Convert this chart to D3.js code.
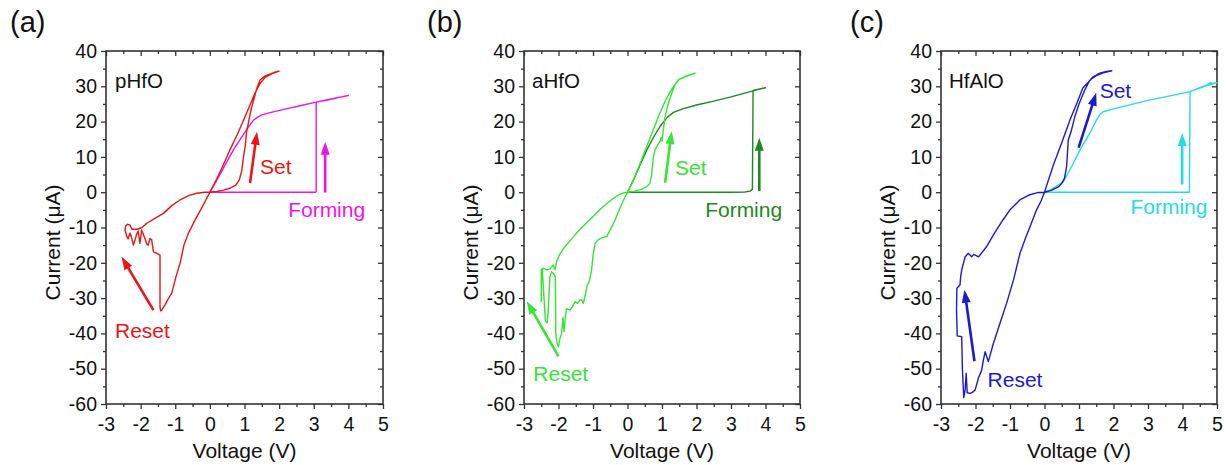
<!DOCTYPE html>
<html><head><meta charset="utf-8">
<script src="https://cdn.jsdelivr.net/npm/d3@7"></script>
<style>
body{margin:0;background:#fff}
svg{display:block;font-family:"Liberation Sans",Arial,sans-serif}
</style>
</head><body>
<svg id="chart" width="1228" height="465"></svg>
<script>
// ---------- data ----------
const xTicks = [-3,-2,-1,0,1,2,3,4,5];
const xMinor = [-2.5,-1.5,-0.5,0.5,1.5,2.5,3.5,4.5];
const yTicks = [40,30,20,10,0,-10,-20,-30,-40,-50,-60];
const yMinor = [35,25,15,5,-5,-15,-25,-35,-45,-55];
const panelTags = ["(a)","(b)","(c)"];
const sampleNames = ["pHfO","aHfO","HfAlO"];
const stepLabels = ["Set","Forming","Reset"];

// (a) pHfO
const aForming = [[0,0],[0.5,0],[1,0],[1.5,0],[2,0],[2.5,0],[3.05,0],[3.07,0.2],[3.07,25.5],[3.3,26],[3.6,26.6],[3.8,27],[4,27.4],[3.7,26.8],[3.4,26.1],[3.07,25.5],[2.6,24.5],[2.2,23.6],[1.8,22.7],[1.5,21.9],[1.36,21.1],[1.25,20.3],[1.1,18.3],[0.9,15.3],[0.68,12],[0.5,8.8],[0.3,5.2],[0.12,2],[0,0]];
const aCycle = [[0,0],[0.2,0.2],[0.4,0.6],[0.6,1.2],[0.75,2],[0.85,3.5],[0.92,6],[0.97,10],[1.02,13],[1.06,17],[1.11,19.5],[1.18,23],[1.26,26],[1.36,29.5],[1.45,31.8],[1.57,32.8],[1.69,33.3],[1.85,33.9],[2.0,34.3],
 [1.8,33.6],[1.6,32.6],[1.45,30.8],[1.3,28],[1.15,24.5],[1.0,21],[0.8,16.5],[0.58,12],[0.4,8],[0.2,3.8],[0,0],
 [-0.2,-3.8],[-0.43,-7.9],[-0.62,-11.6],[-0.75,-15],[-0.86,-20.1],[-0.98,-24],[-1.1,-28.6],[-1.22,-30.5],[-1.3,-32],[-1.39,-33.4],[-1.42,-33.6],[-1.44,-32.5],[-1.44,-17.8],[-1.5,-17.5],[-1.63,-16.9],[-1.68,-13.5],[-1.73,-13.1],[-1.78,-15],[-1.82,-14.7],[-1.9,-12.5],[-1.97,-10.7],[-2.02,-14.5],[-2.07,-11],[-2.11,-11.7],[-2.16,-13.5],[-2.21,-15],[-2.27,-12.5],[-2.31,-11.6],[-2.36,-13.2],[-2.4,-12.5],[-2.45,-10.7],[-2.43,-9.5],[-2.38,-9.1],[-2.31,-9.3],[-2.25,-10.5],
 [-2.1,-10.5],[-1.96,-10],[-1.82,-8.8],[-1.6,-7.5],[-1.34,-6],[-1.1,-3.8],[-0.86,-2.2],[-0.6,-0.9],[-0.38,-0.3],[-0.15,0],[0,0]];
const aArrows = [[[1.16,2.6],[1.36,17.1]],[[3.33,-0.1],[3.33,14.3]],[[-1.63,-33.4],[-2.55,-18.3]]];
const aLabelPos = [[1.45,5.2],[2.26,-6.9],[-2.74,-41.3]];

// (b) aHfO
const bForming = [[0,0],[0.5,0],[1,0],[2,0],[3,0],[3.4,0.05],[3.55,0.3],[3.62,0.8],[3.64,28.8],[3.8,29.2],[4.0,29.6],[3.64,28.7],[3.0,27],[2.5,25.8],[2.0,24.7],[1.6,23.6],[1.33,22.6],[1.15,21.2],[0.94,18.6],[0.75,15.5],[0.56,12],[0.4,8.5],[0.2,4],[0,0]];
const bCycle = [[0,0],[0.2,0.3],[0.4,0.8],[0.55,1.5],[0.65,2.5],[0.7,5],[0.75,10],[0.8,12],[0.88,13.5],[0.95,14.5],[0.98,15.5],[1.0,14.5],[1.03,17],[1.09,21.4],[1.18,25],[1.28,28],[1.38,30.5],[1.47,31.8],[1.65,32.7],[1.8,33.2],[1.96,33.7],
 [1.7,32.8],[1.5,32],[1.3,29.5],[1.1,26],[0.9,21.5],[0.7,16.5],[0.5,11.5],[0.3,6.5],[0.15,3],[0,0],
 [-0.15,-3],[-0.36,-7.9],[-0.5,-10.6],[-0.6,-12.6],[-0.75,-12.9],[-0.85,-13.5],[-0.94,-14.5],[-1.0,-18],[-1.04,-22],[-1.1,-25],[-1.18,-26.8],[-1.22,-29],[-1.28,-31.5],[-1.33,-30.4],[-1.38,-30.6],[-1.45,-31.5],[-1.52,-31],[-1.6,-32.5],[-1.67,-33.4],[-1.77,-33],[-1.81,-36.2],[-1.84,-39.5],[-1.87,-35.5],[-1.91,-40],[-1.96,-41.5],[-2.0,-43.8],[-2.05,-42.5],[-2.08,-40],[-2.09,-24],[-2.15,-23],[-2.2,-22.5],[-2.25,-24],[-2.3,-34],[-2.33,-37],[-2.38,-36.5],[-2.42,-30],[-2.45,-25],[-2.47,-22],[-2.5,-21.8],[-2.5,-31],[-2.49,-22],
 [-2.45,-21.5],[-2.35,-22],[-2.25,-21.8],[-2.15,-20.6],[-2.1,-22],[-2.05,-19.5],[-1.96,-17.5],[-1.8,-15.3],[-1.6,-13],[-1.47,-11.5],[-1.2,-8.8],[-0.99,-6.8],[-0.75,-4.5],[-0.51,-2.5],[-0.3,-1],[-0.12,-0.2],[0,0]];
const bArrows = [[[1.09,2.7],[1.28,17.3]],[[3.82,0.3],[3.82,15.4]],[[-2.0,-46.5],[-2.92,-30.9]]];
const bLabelPos = [[1.38,5.0],[2.25,-7.0],[-2.73,-53.6]];

// (c) HfAlO
const cForming = [[0,0],[1,0],[2,0],[3,0],[4,0],[4.2,0],[4.22,28.5],[4.5,29.6],[4.7,30.3],[4.8,31],[4.85,30.8],[5.0,31],[4.8,30.5],[4.5,29.5],[4.22,28.5],[3.5,27],[3,26],[2.5,24.8],[2.0,23.6],[1.7,22.8],[1.6,22],[1.51,20.5],[1.3,16.5],[1.03,12],[0.8,7.5],[0.55,3],[0.4,2],[0.2,0.8],[0,0]];
const cCycle = [[0,0],[0.2,0.5],[0.4,1.5],[0.5,2.5],[0.58,4],[0.64,7.2],[0.69,14.8],[0.78,17.5],[0.88,21.4],[1.0,25],[1.17,29],[1.3,31.5],[1.41,32.7],[1.6,33.7],[1.8,34.2],[1.95,34.4],
 [1.7,33.8],[1.5,33],[1.35,32],[1.11,29.5],[0.95,25.5],[0.74,20.5],[0.5,14],[0.26,7.8],[0.1,3],[0,0],
 [-0.1,-2.5],[-0.23,-5],[-0.42,-9.8],[-0.55,-13],[-0.71,-17.3],[-0.9,-24.9],[-1.1,-31.5],[-1.29,-37.1],[-1.48,-42.8],[-1.6,-47],[-1.63,-48],[-1.72,-45.2],[-1.78,-48],[-1.82,-50.4],[-1.91,-52.5],[-2.01,-56],[-2.1,-56.8],[-2.16,-57],[-2.24,-56.8],[-2.27,-51.3],[-2.3,-56],[-2.34,-58.2],[-2.38,-50],[-2.4,-40.9],[-2.47,-40.8],[-2.53,-40.7],[-2.55,-33.4],[-2.54,-27.2],[-2.45,-26.3],[-2.43,-24],[-2.4,-22],[-2.3,-18.3],[-2.21,-17.3],[-2.11,-18.3],[-2.05,-17.6],[-2.01,-17.8],[-1.91,-18.3],
 [-1.67,-15.3],[-1.45,-11.6],[-1.2,-7.8],[-1.0,-5],[-0.7,-2.1],[-0.45,-0.8],[-0.2,-0.1],[0,0]];
const cArrows = [[[0.99,12.6],[1.5,28.2]],[[3.99,2.2],[3.99,16.8]],[[-2.03,-47.9],[-2.32,-27.6]]];
const cLabelPos = [[1.6,26.6],[2.49,-6.3],[-1.65,-55.3]];

// ---------- layout / style ----------
const plotTop = 51, plotBottom = 404;
const panels = [
  {tag:0, left:106, right:383, tagX:10, nameDx:9, forming:aForming, cycle:aCycle, arrows:aArrows, labels:aLabelPos,
   cycleColor:"#ee1414", formColor:"#ee14ee"},
  {tag:1, left:524, right:800, tagX:427, nameDx:8, forming:bForming, cycle:bCycle, arrows:bArrows, labels:bLabelPos,
   cycleColor:"#33e633", formColor:"#1c8a1c"},
  {tag:2, left:941, right:1217, tagX:850, nameDx:8, forming:cForming, cycle:cCycle, arrows:cArrows, labels:cLabelPos,
   cycleColor:"#1a1ad0", formColor:"#22dede"}
];
const axisColor = "#333";
const svg = d3.select("#chart");
const fmt = d => String(d);

panels.forEach(p => {
  const x = d3.scaleLinear().domain([-3,5]).range([p.left, p.right]);
  const y = d3.scaleLinear().domain([-60,40]).range([plotBottom, plotTop]);
  const g = svg.append("g");

  const styleAxis = sel => {
    sel.select(".domain").remove();
    sel.selectAll("line").attr("stroke", axisColor).attr("stroke-width", 1.3);
    sel.selectAll("text").attr("fill", "#111").attr("font-size", 19.5)
      .attr("font-family", '"Liberation Sans",Arial,sans-serif');
  };
  g.append("g").attr("transform", `translate(0,${plotBottom})`)
    .call(d3.axisBottom(x).tickValues(xTicks).tickSize(5).tickPadding(8).tickFormat(fmt)).call(styleAxis);
  g.append("g").attr("transform", `translate(0,${plotBottom})`)
    .call(d3.axisBottom(x).tickValues(xMinor).tickSize(3).tickFormat("")).call(styleAxis);
  g.append("g").attr("transform", `translate(${p.left},0)`)
    .call(d3.axisLeft(y).tickValues(yTicks).tickSize(5).tickPadding(4).tickFormat(fmt)).call(styleAxis);
  g.append("g").attr("transform", `translate(${p.left},0)`)
    .call(d3.axisLeft(y).tickValues(yMinor).tickSize(3).tickFormat("")).call(styleAxis);
  g.append("g").attr("transform", `translate(0,${plotTop})`)
    .call(d3.axisTop(x).tickValues(xTicks).tickSize(-5).tickFormat("")).call(styleAxis);
  g.append("g").attr("transform", `translate(0,${plotTop})`)
    .call(d3.axisTop(x).tickValues(xMinor).tickSize(-3).tickFormat("")).call(styleAxis);
  g.append("g").attr("transform", `translate(${p.right},0)`)
    .call(d3.axisRight(y).tickValues(yTicks).tickSize(-5).tickFormat("")).call(styleAxis);
  g.append("g").attr("transform", `translate(${p.right},0)`)
    .call(d3.axisRight(y).tickValues(yMinor).tickSize(-3).tickFormat("")).call(styleAxis);

  g.append("rect").attr("x", p.left).attr("y", plotTop)
    .attr("width", p.right - p.left).attr("height", plotBottom - plotTop)
    .attr("fill", "none").attr("stroke", axisColor).attr("stroke-width", 1.6);

  const line = d3.line().x(d => x(d[0])).y(d => y(d[1]));
  g.append("path").datum(p.forming).attr("d", line).attr("fill", "none")
    .attr("stroke", p.formColor).attr("stroke-width", 1.4).attr("stroke-linejoin", "round");
  g.append("path").datum(p.cycle).attr("d", line).attr("fill", "none")
    .attr("stroke", p.cycleColor).attr("stroke-width", 1.4).attr("stroke-linejoin", "round");

  const arrowColors = [p.cycleColor, p.formColor, p.cycleColor];
  p.arrows.forEach((a, i) => {
    const x0 = x(a[0][0]), y0 = y(a[0][1]), x1 = x(a[1][0]), y1 = y(a[1][1]);
    const dx = x1 - x0, dy = y1 - y0, L = Math.hypot(dx, dy);
    const ux = dx / L, uy = dy / L, hl = 13, hw = 4.5;
    const bx = x1 - ux * hl, by = y1 - uy * hl;
    g.append("line").attr("x1", x0).attr("y1", y0).attr("x2", bx + ux).attr("y2", by + uy)
      .attr("stroke", arrowColors[i]).attr("stroke-width", 2.6);
    g.append("path")
      .attr("d", `M${x1},${y1}L${bx - uy * hw},${by + ux * hw}L${bx + uy * hw},${by - ux * hw}Z`)
      .attr("fill", arrowColors[i]);
  });

  p.labels.forEach((l, i) => {
    g.append("text").attr("x", x(l[0])).attr("y", y(l[1]))
      .attr("font-size", 21).attr("fill", arrowColors[i]).text(stepLabels[i]);
  });

  g.append("text").attr("x", p.left + p.nameDx).attr("y", 88)
    .attr("font-size", 20.5).attr("fill", "#111").text(sampleNames[p.tag]);

  g.append("text").attr("x", p.tagX).attr("y", 32)
    .attr("font-size", 29).attr("fill", "#111").text(panelTags[p.tag]);

  g.append("text").attr("x", (p.left + p.right) / 2).attr("y", 458)
    .attr("text-anchor", "middle").attr("font-size", 21).attr("fill", "#111").text("Voltage (V)");
  g.append("text").attr("transform", `translate(${p.left - 46},${(plotTop + plotBottom) / 2 + 15}) rotate(-90)`)
    .attr("text-anchor", "middle").attr("font-size", 21).attr("fill", "#111").text("Current (μA)");
});
</script>
</body></html>
